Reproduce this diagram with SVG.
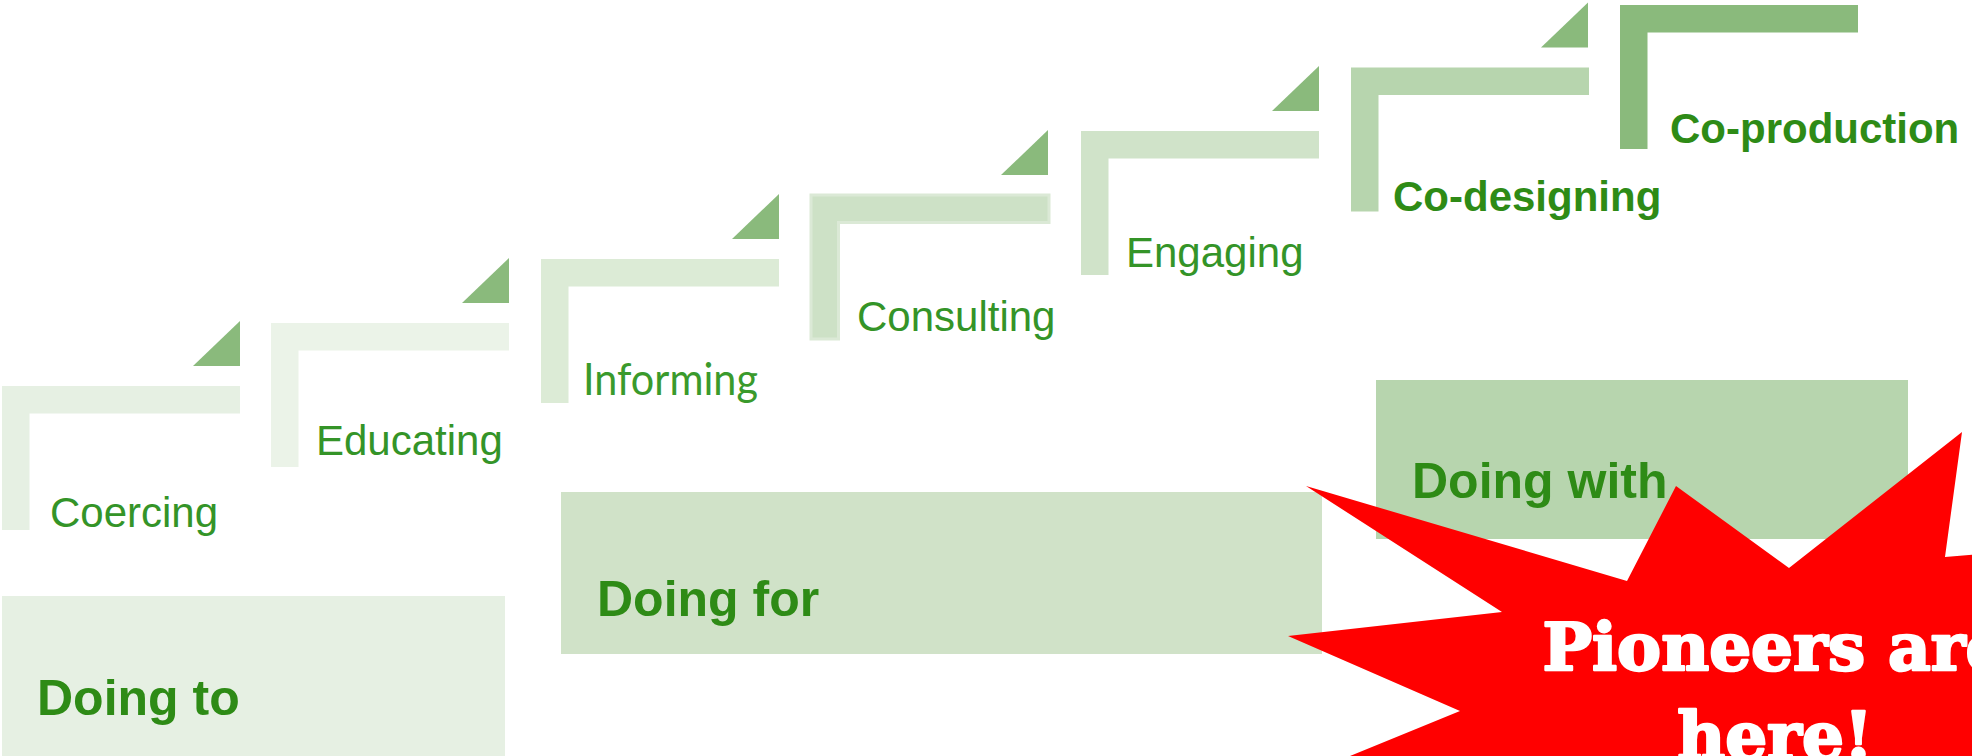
<svg xmlns="http://www.w3.org/2000/svg" xmlns:xlink="http://www.w3.org/1999/xlink" width="1972" height="756" viewBox="0 0 1972 756">
  <style>
    .lbl { font-family: "Liberation Sans", Arial, sans-serif; font-size: 42px; fill: #349428; }
    .lblb { font-family: "Liberation Sans", Arial, sans-serif; font-size: 42px; font-weight: bold; fill: #2e8b16; }
    .lblh { font-family: Lato, "Open Sans", sans-serif; font-size: 44px; fill: #3a9a2c; }
    .grp { font-family: "Liberation Sans", Arial, sans-serif; font-size: 50px; font-weight: bold; fill: #2e8b16; }
    .tri { fill: #8aba7c; }
    .burst { fill: #ff0000; }
    .pio { font-family: "DejaVu Serif", "Liberation Serif", serif; font-size: 66px; font-weight: bold; fill: #ffffff; stroke: #ffffff; stroke-width: 2.5px; stroke-linejoin: round; }
  </style>
  <defs>
    <path id="bracket" d="M0 0 H238 V27.5 H27.5 V144 H0 Z"/>
    <path id="triangle" d="M-47 -20 L0 -65 L0 -20 Z"/>
  </defs>
  <rect width="1972" height="756" fill="#ffffff"/>

  <g id="step-coercing">
    <use xlink:href="#bracket" href="#bracket" x="2" y="386" fill="#e6f0e3"/>
    <use xlink:href="#triangle" href="#triangle" x="240" y="386" class="tri"/>
    <text class="lbl" x="50" y="527">Coercing</text>
  </g>
  <g id="step-educating">
    <use xlink:href="#bracket" href="#bracket" x="271" y="323" fill="#ebf3e8"/>
    <use xlink:href="#triangle" href="#triangle" x="509" y="323" class="tri"/>
    <text class="lbl" x="316" y="455">Educating</text>
  </g>
  <g id="step-informing">
    <use xlink:href="#bracket" href="#bracket" x="541" y="259" fill="#dcebd6"/>
    <use xlink:href="#triangle" href="#triangle" x="779" y="259" class="tri"/>
    <text class="lblh" x="583" y="395" textLength="175" lengthAdjust="spacingAndGlyphs">Informing</text>
  </g>
  <g id="step-consulting">
    <use xlink:href="#bracket" href="#bracket" x="811" y="195" fill="#cde1c6" stroke="#dbe9d6" stroke-width="3"/>
    <use xlink:href="#triangle" href="#triangle" x="1048" y="195" class="tri"/>
    <text class="lbl" x="857" y="331">Consulting</text>
  </g>
  <g id="step-engaging">
    <use xlink:href="#bracket" href="#bracket" x="1081" y="131" fill="#d0e3c9"/>
    <use xlink:href="#triangle" href="#triangle" x="1319" y="131" class="tri"/>
    <text class="lbl" x="1126" y="267">Engaging</text>
  </g>
  <g id="step-codesigning">
    <use xlink:href="#bracket" href="#bracket" x="1351" y="67.5" fill="#b7d5ae"/>
    <use xlink:href="#triangle" href="#triangle" x="1588" y="67.5" class="tri"/>
    <text class="lblb" x="1393" y="211">Co-designing</text>
  </g>
  <g id="step-coproduction">
    <use xlink:href="#bracket" href="#bracket" x="1620" y="5" fill="#8aba7c"/>
    <text class="lblb" x="1670" y="143">Co-production</text>
  </g>

  <g id="group-doing-to">
    <rect x="2" y="596" width="503" height="160" fill="#e6f0e3"/>
    <text class="grp" x="37" y="715">Doing to</text>
  </g>
  <g id="group-doing-for">
    <rect x="561" y="492" width="761" height="162" fill="#d0e2c8"/>
    <text class="grp" x="597" y="616">Doing for</text>
  </g>
  <g id="group-doing-with">
    <rect x="1376" y="380" width="532" height="159" fill="#b7d5ae"/>
    <text class="grp" x="1412" y="498">Doing with</text>
  </g>

  <g id="starburst">
    <polygon class="burst" points="1306,486 1627,581 1676,486 1789,568 1962,432 1945,557 2080,546 2080,800 1272,800 1350,756 1460,711 1288,636 1502,612"/>
    <text class="pio" x="1775" y="670" text-anchor="middle">Pioneers are</text>
    <text class="pio" x="1775" y="759" text-anchor="middle">here!</text>
  </g>
</svg>
